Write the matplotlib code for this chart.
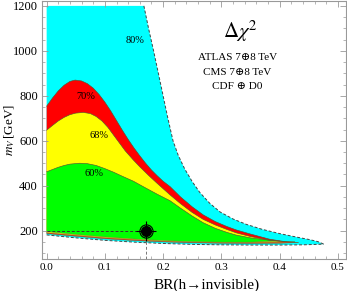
import matplotlib
matplotlib.use('Agg')
import matplotlib.pyplot as plt
from matplotlib.ticker import MultipleLocator

plt.rcParams['font.family'] = ['Liberation Serif', 'DejaVu Serif']
plt.rcParams['mathtext.fontset'] = 'stix'

# region outlines: upper edge (BR, m) and lower edge (BR, m)
cyan_up_br = [0, 0.167, 0.175, 0.184, 0.192, 0.200, 0.208, 0.217, 0.226, 0.237, 0.250, 0.263,
              0.280, 0.298, 0.320, 0.343, 0.370, 0.400, 0.430, 0.452, 0.466, 0.476]
cyan_up_m = [1200, 1200, 1100, 996, 898, 800, 702, 600, 535, 475, 418, 370,
             322, 283, 252, 228, 206, 187, 171, 160, 151, 140]
cyan_lo_br = [0, 0.05, 0.10, 0.15, 0.20, 0.25, 0.30, 0.35, 0.40, 0.44, 0.476]
cyan_lo_m = [181, 168, 157, 149, 143, 139, 137, 136, 136, 137, 140]

red_up_br = [0, 0.01, 0.02, 0.03, 0.04, 0.049, 0.06, 0.07, 0.08, 0.09, 0.10, 0.11, 0.12, 0.13,
             0.14, 0.15, 0.16, 0.17, 0.18, 0.19, 0.20, 0.212, 0.23, 0.25, 0.269, 0.29, 0.31,
             0.326, 0.35, 0.383, 0.41, 0.432]
red_up_m = [754, 790, 822, 847, 864, 870, 866, 854, 834, 806, 772, 733, 690, 647,
            606, 568, 533, 500, 470, 444, 420, 396, 350, 306, 270, 240, 218,
            203, 185, 162, 151, 147]
red_lo_br = [0, 0.05, 0.10, 0.15, 0.20, 0.25, 0.30, 0.35, 0.40, 0.432]
red_lo_m = [187, 175, 164, 156, 150, 146, 144, 143, 144, 147]

yel_up_br = [0, 0.01, 0.02, 0.03, 0.04, 0.05, 0.063, 0.075, 0.085, 0.095, 0.105, 0.115, 0.125,
             0.135, 0.149, 0.16, 0.175, 0.19, 0.212, 0.23, 0.25, 0.269, 0.29, 0.31, 0.326,
             0.35, 0.383, 0.405, 0.426]
yel_up_m = [647, 668, 688, 704, 716, 723, 726, 721, 708, 688, 660, 625, 590,
            555, 514, 484, 446, 410, 359, 320, 281, 250, 225, 205, 190,
            174, 157, 151, 150]
yel_lo_br = [0, 0.05, 0.10, 0.15, 0.20, 0.25, 0.30, 0.35, 0.40, 0.426]
yel_lo_m = [191, 179, 168, 160, 153, 149, 147, 147, 148, 150]

grn_up_br = [0, 0.01, 0.02, 0.03, 0.04, 0.057, 0.07, 0.085, 0.10, 0.115, 0.13, 0.149, 0.17,
             0.19, 0.212, 0.23, 0.25, 0.269, 0.29, 0.31, 0.326, 0.35, 0.375, 0.40]
grn_up_m = [462, 472, 482, 490, 496, 500, 498, 490, 476, 460, 442, 420, 390,
            362, 333, 300, 265, 235, 210, 192, 180, 168, 160, 154]
grn_lo_br = [0, 0.05, 0.10, 0.15, 0.20, 0.25, 0.30, 0.35, 0.40]
grn_lo_m = [196, 183, 172, 163, 156, 151, 149, 149, 154]

best_br = 0.170
best_m = 200

labels = ['80%', '70%', '68%', '60%']
label_br = [0.151, 0.0675, 0.0906, 0.0812]
label_m = [1048, 796, 625, 455]

fig = plt.figure(figsize=(3.47, 2.91), dpi=100)
ax = fig.add_axes([0.121, 0.110, 0.876, 0.886])

regions = [
    (cyan_up_br, cyan_up_m, cyan_lo_br, cyan_lo_m, '#00ffff'),
    (red_up_br, red_up_m, red_lo_br, red_lo_m, '#ff0000'),
    (yel_up_br, yel_up_m, yel_lo_br, yel_lo_m, '#ffff00'),
    (grn_up_br, grn_up_m, grn_lo_br, grn_lo_m, '#00ff00'),
]
for i, (ubr, um, lbr, lm, col) in enumerate(regions):
    xs = list(ubr) + list(lbr[::-1])
    ys = list(um) + list(lm[::-1])
    ax.fill(xs, ys, color=col, lw=0)
    if i == 0:
        ax.plot(ubr[1:], um[1:], color='#444444', lw=0.7, ls=(0, (3, 2)))
        ax.plot(lbr, lm, color='#444444', lw=0.7, ls=(0, (3, 2)))
    else:
        ax.plot(ubr, um, color='#555533', lw=0.45)
        ax.plot(lbr, lm, color='#777744', lw=0.35)

for t, x, y in zip(labels, label_br, label_m):
    ax.text(x, y, t, fontsize=7.5, ha='center', va='center')

# best fit point
ax.plot([0, best_br], [best_m, best_m], color='#333333', lw=0.7, ls=(0, (3, 2)))
ax.plot([best_br, best_br], [74, best_m], color='#777777', lw=0.7, ls=(0, (3, 2)))
ax.plot(best_br, best_m, marker='+', ms=15, mew=0.8, color='black')
ax.plot(best_br, best_m, marker='o', ms=9.5, mfc='none', mec='black', mew=0.8)
ax.plot(best_br, best_m, marker='o', ms=7, color='black')

ax.text(0.332, 1087, r'$\Delta\chi^2$', fontsize=15, ha='center', va='center')
ax.text(0.327, 970, 'ATLAS 7\u22958 TeV', fontsize=8, ha='center', va='center')
ax.text(0.327, 903, 'CMS 7\u22958 TeV', fontsize=8, ha='center', va='center')
ax.text(0.327, 840, 'CDF \u2295 D0', fontsize=8, ha='center', va='center')

ax.set_xlim(-0.008, 0.514)
ax.set_ylim(74, 1221)
ax.xaxis.set_minor_locator(MultipleLocator(0.02))
ax.yaxis.set_major_locator(MultipleLocator(200))
ax.yaxis.set_minor_locator(MultipleLocator(50))
ax.set_xticks([0, 0.1, 0.2, 0.3, 0.4, 0.5])
ax.set_xticklabels(['0.0', '0.1', '0.2', '0.3', '0.4', '0.5'])
ax.tick_params(which='both', direction='in', top=True, right=True, color='#999999', pad=3)
ax.tick_params(axis='x', labelsize=8)
ax.tick_params(axis='y', labelsize=9)
ax.tick_params(which='major', length=4, width=0.6)
ax.tick_params(which='minor', length=2, width=0.5)
for s in ax.spines.values():
    s.set_color('#999999')
    s.set_linewidth(0.8)

ax.set_xlabel('BR(h\u2192invisible)', fontsize=11)
ax.xaxis.set_label_coords(0.543, -0.075)
ax.set_ylabel(r'$m_V\,$[GeV]', fontsize=9.5)
ax.yaxis.set_label_coords(-0.083, 0.5)

fig.savefig('out.png', dpi=100)
